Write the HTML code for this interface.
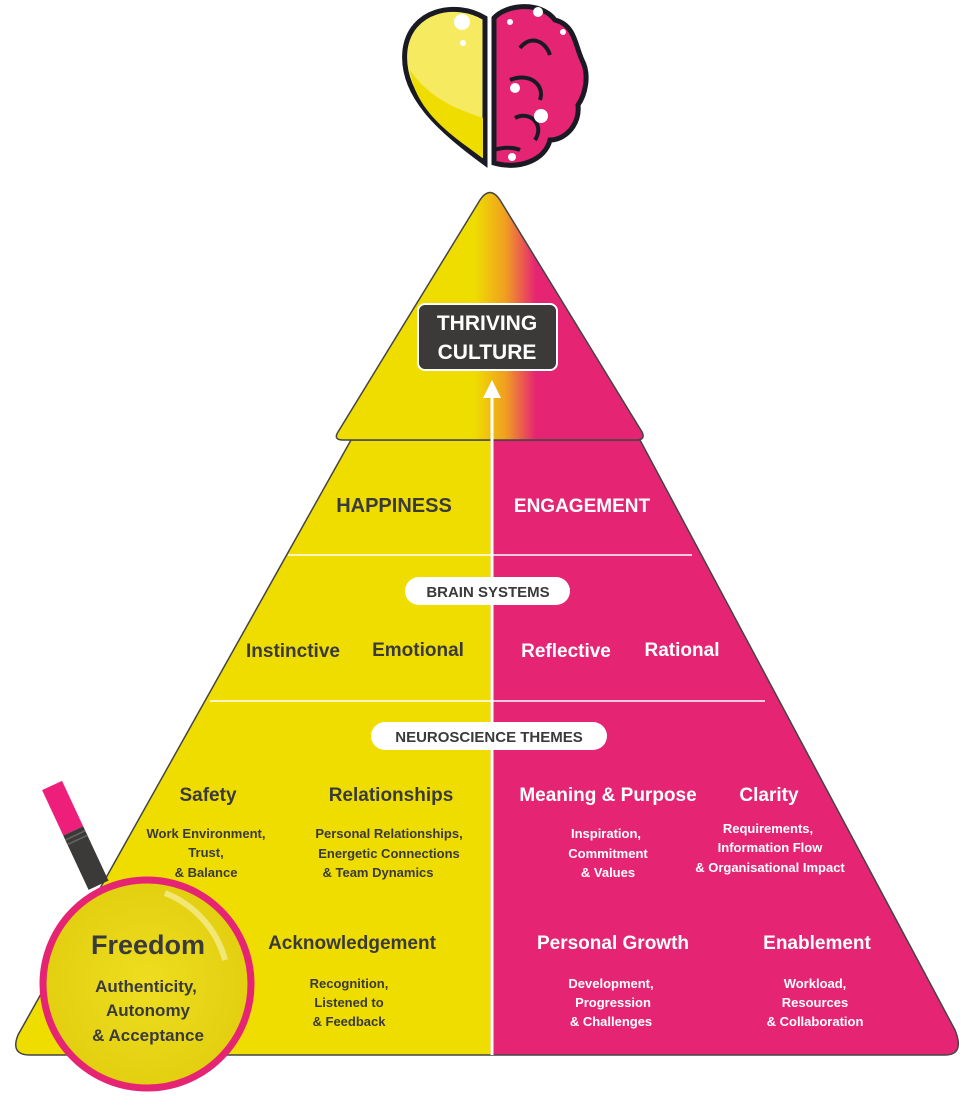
<!DOCTYPE html>
<html><head><meta charset="utf-8"><style>
body{margin:0;background:#fff;width:978px;height:1100px;overflow:hidden}
svg text{font-family:"Liberation Sans",sans-serif;font-weight:bold}
</style></head><body>
<svg width="978" height="1100" viewBox="0 0 978 1100" xmlns="http://www.w3.org/2000/svg">
<defs>
<linearGradient id="tg" x1="0" x2="1" y1="0" y2="0">
<stop offset="0" stop-color="#efdd00"/><stop offset="0.45" stop-color="#efdd00"/>
<stop offset="0.55" stop-color="#f0a020"/><stop offset="0.65" stop-color="#e52574"/><stop offset="1" stop-color="#e52574"/>
</linearGradient>
<linearGradient id="bg" x1="0" x2="1" y1="0" y2="0">
<stop offset="0" stop-color="#efdd00"/><stop offset="0.503" stop-color="#efdd00"/>
<stop offset="0.505" stop-color="#e52574"/><stop offset="1" stop-color="#e52574"/>
</linearGradient>
<radialGradient id="lens" cx="0.5" cy="0.5" r="0.5">
<stop offset="0" stop-color="#eedd20"/><stop offset="1" stop-color="#e2cf10"/>
</radialGradient>
</defs>
<!-- heart / brain -->
<path d="M485,163 L485,18 C455,0 410,10 405,50 C400,95 440,130 485,163Z" fill="#f5ea60" stroke="#1a1a24" stroke-width="5"/>
<path d="M483,158 C450,135 415,110 410,70 C430,100 460,110 483,118Z" fill="#efdd00"/>
<circle cx="462" cy="22" r="8" fill="#fff"/><circle cx="463" cy="43" r="3" fill="#fff"/>
<path d="M494,163 L494,18 C505,5 540,0 555,20 C575,25 575,45 582,60 C590,75 585,95 578,105 C580,125 565,140 550,140 C545,160 520,170 494,163Z" fill="#e52574" stroke="#1a1a24" stroke-width="5"/>
<path d="M520,48 C530,35 545,40 550,55 M510,80 C530,72 545,85 540,100 M515,118 C530,110 545,125 535,140 M494,150 C510,145 520,150 520,150" fill="none" stroke="#1a1a24" stroke-width="4"/>
<circle cx="538" cy="12" r="5" fill="#fff"/><circle cx="510" cy="22" r="3" fill="#fff"/><circle cx="563" cy="32" r="3" fill="#fff"/>
<circle cx="515" cy="88" r="5" fill="#fff"/><circle cx="541" cy="116" r="7" fill="#fff"/><circle cx="512" cy="157" r="4" fill="#fff"/>
<!-- big pyramid body -->
<path d="M351,440 L640,440 L955,1030 Q965,1055 945,1055 L30,1055 Q10,1055 18,1035 Z" fill="url(#bg)" stroke="#444" stroke-width="1.5"/>
<!-- top triangle -->
<path d="M480,200 Q490,185 500,200 L642,432 Q646,440 636,440 L343,440 Q333,440 338,432 Z" fill="url(#tg)" stroke="#444" stroke-width="1.5"/>
<!-- dividers -->
<line x1="288" y1="555" x2="692" y2="555" stroke="#fff" stroke-width="1.5"/>
<line x1="210" y1="701" x2="765" y2="701" stroke="#fff" stroke-width="1.5"/>
<!-- arrow -->
<line x1="492" y1="395" x2="492" y2="1055" stroke="#fff" stroke-width="3"/>
<path d="M483,398 L492,380 L501,398Z" fill="#fff"/>
<!-- thriving -->
<rect x="418" y="304" width="139" height="66" rx="7" fill="#3b3a38" stroke="#fff" stroke-width="2"/>
<text x="487" y="330" font-size="21" fill="#fff" text-anchor="middle">THRIVING</text>
<text x="487" y="359" font-size="21" fill="#fff" text-anchor="middle">CULTURE</text>
<text x="394" y="512" font-size="20" fill="#3a3a3a" text-anchor="middle">HAPPINESS</text>
<text x="582" y="512" font-size="19" fill="#fff" text-anchor="middle">ENGAGEMENT</text>
<rect x="405" y="577" width="165" height="28" rx="14" fill="#fff"/>
<text x="488" y="597" font-size="15" fill="#3a3a3a" text-anchor="middle">BRAIN SYSTEMS</text>
<text x="293" y="657" font-size="19" fill="#3a3a3a" text-anchor="middle">Instinctive</text>
<text x="418" y="656" font-size="19" fill="#3a3a3a" text-anchor="middle">Emotional</text>
<text x="566" y="657" font-size="19" fill="#fff" text-anchor="middle">Reflective</text>
<text x="682" y="656" font-size="19" fill="#fff" text-anchor="middle">Rational</text>
<rect x="371" y="722" width="236" height="28" rx="14" fill="#fff"/>
<text x="489" y="742" font-size="15" fill="#3a3a3a" text-anchor="middle">NEUROSCIENCE THEMES</text>
<g fill="#3a3a3a" text-anchor="middle">
<text x="208" y="801" font-size="19">Safety</text>
<text x="206" y="838" font-size="13">Work Environment,</text>
<text x="206" y="857" font-size="13">Trust,</text>
<text x="206" y="877" font-size="13">&amp; Balance</text>
<text x="391" y="801" font-size="19">Relationships</text>
<text x="389" y="838" font-size="13">Personal Relationships,</text>
<text x="389" y="858" font-size="13">Energetic Connections</text>
<text x="378" y="877" font-size="13">&amp; Team Dynamics</text>
<text x="352" y="949" font-size="19">Acknowledgement</text>
<text x="349" y="988" font-size="13">Recognition,</text>
<text x="349" y="1007" font-size="13">Listened to</text>
<text x="349" y="1026" font-size="13">&amp; Feedback</text>
</g>
<g fill="#fff" text-anchor="middle">
<text x="608" y="801" font-size="19">Meaning &amp; Purpose</text>
<text x="606" y="838" font-size="13">Inspiration,</text>
<text x="608" y="858" font-size="13">Commitment</text>
<text x="608" y="877" font-size="13">&amp; Values</text>
<text x="769" y="801" font-size="19">Clarity</text>
<text x="768" y="833" font-size="13">Requirements,</text>
<text x="770" y="852" font-size="13">Information Flow</text>
<text x="770" y="872" font-size="13">&amp; Organisational Impact</text>
<text x="613" y="949" font-size="19">Personal Growth</text>
<text x="611" y="988" font-size="13">Development,</text>
<text x="613" y="1007" font-size="13">Progression</text>
<text x="611" y="1026" font-size="13">&amp; Challenges</text>
<text x="817" y="949" font-size="19">Enablement</text>
<text x="815" y="988" font-size="13">Workload,</text>
<text x="815" y="1007" font-size="13">Resources</text>
<text x="815" y="1026" font-size="13">&amp; Collaboration</text>
</g>
<!-- magnifier -->
<g transform="rotate(-25 75 830)">
<rect x="62" y="780" width="22" height="50" fill="#ee1f7a"/>
<rect x="62" y="830" width="22" height="60" fill="#3b3a38"/>
<line x1="62" y1="835" x2="84" y2="835" stroke="#666" stroke-width="1.5"/>
<line x1="62" y1="840" x2="84" y2="840" stroke="#666" stroke-width="1.5"/>
</g>
<circle cx="147" cy="984" r="104" fill="url(#lens)" stroke="#e52574" stroke-width="7"/>
<path d="M165,893 A100,100 0 0 1 225,960" fill="none" stroke="#f8f0a0" stroke-width="6" opacity="0.7"/>
<text x="148" y="954" font-size="27" fill="#3a3a3a" text-anchor="middle">Freedom</text>
<text x="146" y="992" font-size="17" fill="#3a3a3a" text-anchor="middle">Authenticity,</text>
<text x="148" y="1016" font-size="17" fill="#3a3a3a" text-anchor="middle">Autonomy</text>
<text x="148" y="1041" font-size="17" fill="#3a3a3a" text-anchor="middle">&amp; Acceptance</text>
</svg>
</body></html>
